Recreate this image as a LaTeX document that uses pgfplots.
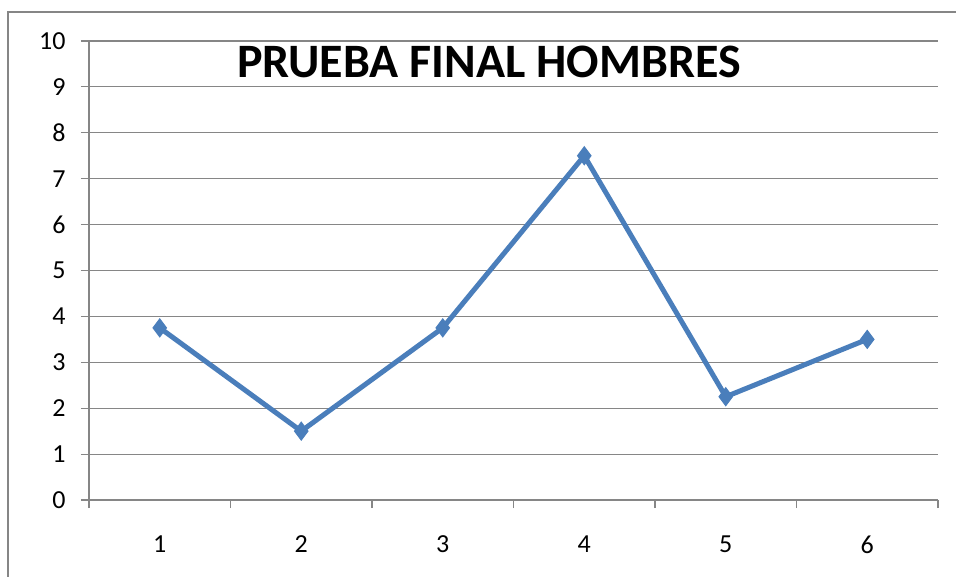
\documentclass[border=0pt]{standalone}
\usepackage{pgfplots}
\pgfplotsset{compat=1.18}
\usepackage{fontspec}
\setmainfont{Carlito}
\definecolor{xlblue}{HTML}{4A7EBB}
\definecolor{gridgray}{HTML}{868686}
\begin{document}
\begin{tikzpicture}[x=1pt,y=1pt]
\path[use as bounding box] (0,0) rectangle (956,576);
\draw[gridgray,line width=1.5pt] (8,-5) -- (8,564) -- (961,564);
\begin{axis}[
  at={(89pt,76pt)}, anchor=origin,
  scale only axis, width=849pt, height=459pt,
  xmin=0.5, xmax=6.5, ymin=0, ymax=10,
  xtick={1,2,3,4,5,6},
  major x tick style={draw=none},
  minor xtick={0.5,1.5,2.5,3.5,4.5,5.5,6.5},
  minor x tick style={gridgray,line width=1.2pt},
  minor tick length=8pt,
  ytick={0,1,...,10},
  major tick length=8pt,
  ytick style={gridgray,line width=1.2pt},
  tick align=outside,
  xtick pos=bottom, ytick pos=left,
  ymajorgrids, grid style={gridgray,line width=1.2pt},
  axis line style={gridgray,line width=1.2pt},
  axis x line*=bottom, axis y line*=left,
  ticklabel style={font=\fontsize{26}{29}\selectfont},
  /pgf/number format/assume math mode=true,
  yticklabel style={xshift=-12pt},
  xticklabel style={yshift=-24pt},
  clip=false,
]
\addplot[xlblue, line width=5pt, mark=diamond*, mark size=9pt, mark options={fill=xlblue,line width=1pt}]
  coordinates {(1,3.75) (2,1.5) (3,3.75) (4,7.5) (5,2.25) (6,3.5)};
\node[font=\fontsize{48}{52}\selectfont\bfseries] at (rel axis cs:0.471,0.954) {PRUEBA FINAL HOMBRES};
\end{axis}
\end{tikzpicture}
\end{document}
